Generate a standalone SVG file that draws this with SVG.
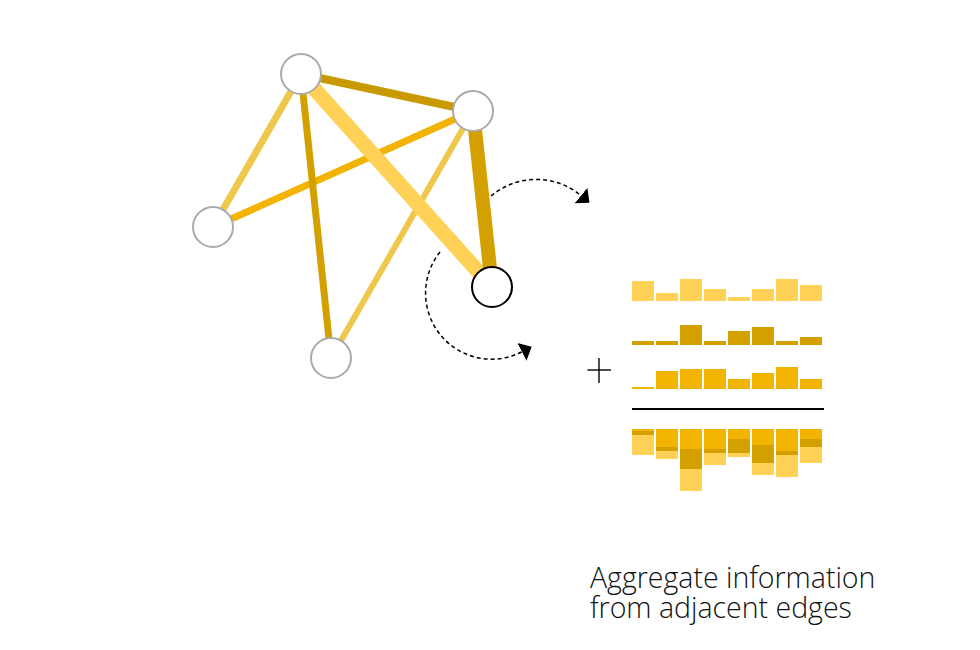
<svg xmlns="http://www.w3.org/2000/svg" width="980" height="650" viewBox="0 0 980 650">
<style>
.node{fill:#fff;stroke:#aaaaaa;stroke-width:2}
.sel{fill:#fff;stroke:#000;stroke-width:2}
.edge{fill:none;stroke-linecap:butt}
.arc{fill:none;stroke:#000;stroke-width:1.5;stroke-dasharray:4 3}
.c1{fill:#ffd257}
.c2{fill:#d4a000}
.c3{fill:#f2b400}
.cap{font-family:"Open Sans","Noto Sans","Liberation Sans",sans-serif;font-weight:300;font-size:28.5px;fill:#111}
</style>
<defs>
<marker id="ah" markerUnits="userSpaceOnUse" markerWidth="12" markerHeight="22" viewBox="0 -11 12 22" refX="0" refY="0" orient="auto">
<path d="M0,-10 L11,0 L0,10 Z" fill="#000"/>
</marker>
</defs>
<g id="connectors">
<line class="edge" x1="473" y1="111" x2="213" y2="227" stroke="#f2b400" stroke-width="7"/>
<line class="edge" x1="301" y1="74" x2="331" y2="358" stroke="#d4a000" stroke-width="7"/>
<line class="edge" x1="301" y1="74" x2="213" y2="227" stroke="#eec84a" stroke-width="7"/>
<line class="edge" x1="473" y1="111" x2="331" y2="358" stroke="#eec84a" stroke-width="6"/>
<line class="edge" x1="301" y1="74" x2="473" y2="111" stroke="#c89a00" stroke-width="8"/>
<line class="edge" x1="301" y1="74" x2="492" y2="287" stroke="#ffd257" stroke-width="15"/>
<line class="edge" x1="473" y1="111" x2="492" y2="287" stroke="#d4a000" stroke-width="14"/>
<path class="arc" d="M491,196 A70,70 0 0 1 581,195.6" marker-end="url(#ah)"/>
<path class="arc" d="M440,252 A66,66 0 0 0 521.9,351.8" marker-end="url(#ah)"/>
</g>
<g id="node-top"><circle class="node" cx="301" cy="74" r="20"/></g>
<g id="node-right"><circle class="node" cx="473" cy="111" r="20"/></g>
<g id="node-left"><circle class="node" cx="213" cy="227" r="20"/></g>
<g id="node-bottom"><circle class="node" cx="331" cy="358" r="20"/></g>
<g id="node-selected"><circle class="sel" cx="492" cy="287" r="20"/></g>
<g id="bars-row1" class="c1">
<rect x="632" y="281" width="22" height="20"/>
<rect x="656" y="293" width="22" height="8"/>
<rect x="680" y="279" width="22" height="22"/>
<rect x="704" y="289" width="22" height="12"/>
<rect x="728" y="297" width="22" height="4"/>
<rect x="752" y="289" width="22" height="12"/>
<rect x="776" y="279" width="22" height="22"/>
<rect x="800" y="285" width="22" height="16"/>
</g>
<g id="bars-row2" class="c2">
<rect x="632" y="341" width="22" height="4"/>
<rect x="656" y="341" width="22" height="4"/>
<rect x="680" y="325" width="22" height="20"/>
<rect x="704" y="341" width="22" height="4"/>
<rect x="728" y="331" width="22" height="14"/>
<rect x="752" y="327" width="22" height="18"/>
<rect x="776" y="341" width="22" height="4"/>
<rect x="800" y="337" width="22" height="8"/>
</g>
<g id="bars-row3" class="c3">
<rect x="632" y="387" width="22" height="2"/>
<rect x="656" y="371" width="22" height="18"/>
<rect x="680" y="369" width="22" height="20"/>
<rect x="704" y="369" width="22" height="20"/>
<rect x="728" y="379" width="22" height="10"/>
<rect x="752" y="373" width="22" height="16"/>
<rect x="776" y="367" width="22" height="22"/>
<rect x="800" y="379" width="22" height="10"/>
</g>
<g id="plus">
<line x1="587.5" y1="370" x2="611" y2="370" stroke="#000" stroke-width="1.4"/>
<line x1="599" y1="358" x2="599" y2="383" stroke="#000" stroke-width="1.4"/>
</g>
<g id="sum-line"><line x1="632" y1="409" x2="824" y2="409" stroke="#000" stroke-width="2"/></g>
<g id="bars-sum">
<g class="c3">
<rect x="632" y="429" width="22" height="2"/>
<rect x="656" y="429" width="22" height="18"/>
<rect x="680" y="429" width="22" height="20"/>
<rect x="704" y="429" width="22" height="20"/>
<rect x="728" y="429" width="22" height="10"/>
<rect x="752" y="429" width="22" height="16"/>
<rect x="776" y="429" width="22" height="22"/>
<rect x="800" y="429" width="22" height="10"/>
</g>
<g class="c2">
<rect x="632" y="431" width="22" height="4"/>
<rect x="656" y="447" width="22" height="4"/>
<rect x="680" y="449" width="22" height="20"/>
<rect x="704" y="449" width="22" height="4"/>
<rect x="728" y="439" width="22" height="14"/>
<rect x="752" y="445" width="22" height="18"/>
<rect x="776" y="451" width="22" height="4"/>
<rect x="800" y="439" width="22" height="8"/>
</g>
<g class="c1">
<rect x="632" y="435" width="22" height="20"/>
<rect x="656" y="451" width="22" height="8"/>
<rect x="680" y="469" width="22" height="22"/>
<rect x="704" y="453" width="22" height="12"/>
<rect x="728" y="453" width="22" height="4"/>
<rect x="752" y="463" width="22" height="12"/>
<rect x="776" y="455" width="22" height="22"/>
<rect x="800" y="447" width="22" height="16"/>
</g>
</g>
<g id="caption">
<text class="cap" x="590" y="588">Aggregate information</text>
<text class="cap" x="590" y="618">from adjacent edges</text>
</g>
</svg>
